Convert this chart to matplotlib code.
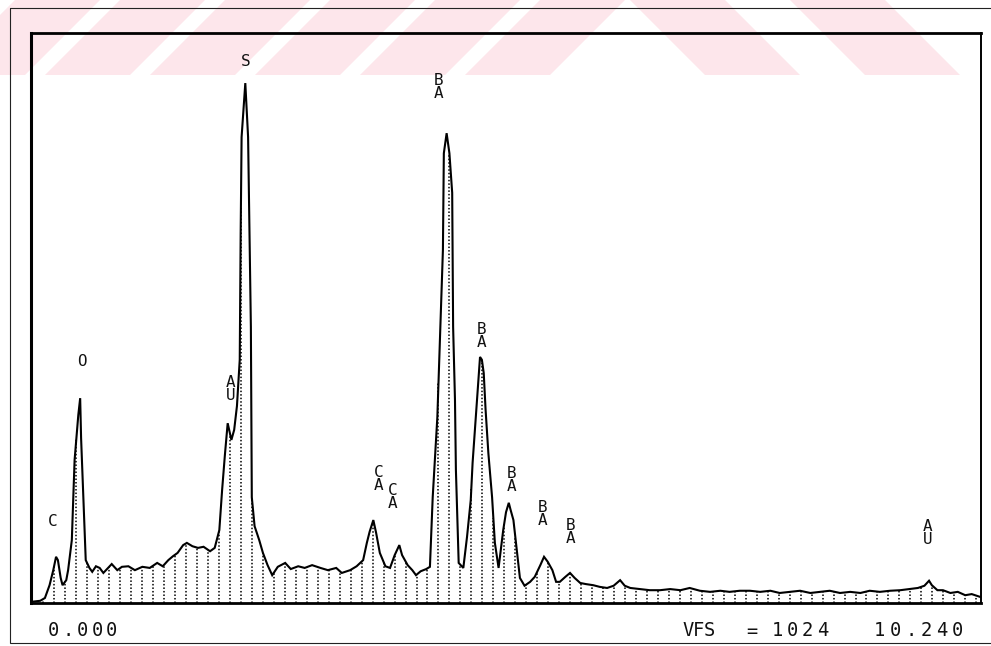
import numpy as np
import matplotlib
matplotlib.use("Agg")
import matplotlib.pyplot as plt
from matplotlib.patches import Polygon, Rectangle

# spectrum trace: energy (keV) and counts (full scale 1024)
energy = [0.00, 0.10, 0.15, 0.20, 0.24, 0.27, 0.29, 0.32, 0.34, 0.38, 0.40, 0.44, 0.47, 0.51, 0.53,
          0.54, 0.57, 0.59, 0.63, 0.66, 0.70, 0.74, 0.78, 0.83, 0.87, 0.93, 0.98, 1.05, 1.12, 1.20,
          1.28, 1.36, 1.42, 1.48, 1.53, 1.58, 1.64, 1.68, 1.74, 1.80, 1.86, 1.93, 1.98, 2.03, 2.06,
          2.09, 2.12, 2.16, 2.19, 2.22, 2.25, 2.26, 2.27, 2.31, 2.34, 2.35, 2.37, 2.38, 2.41, 2.46,
          2.50, 2.55, 2.60, 2.66, 2.74, 2.80, 2.88, 2.95, 3.03, 3.12, 3.20, 3.29, 3.35, 3.44, 3.51,
          3.58, 3.62, 3.65, 3.69, 3.72, 3.76, 3.82, 3.87, 3.92, 3.97, 4.00, 4.06, 4.11, 4.15, 4.20,
          4.26, 4.30, 4.33, 4.38, 4.41, 4.44, 4.45, 4.48, 4.51, 4.54, 4.55, 4.57, 4.58, 4.60, 4.61,
          4.66, 4.70, 4.74, 4.76, 4.81, 4.84, 4.86, 4.88, 4.90, 4.93, 4.97, 5.00, 5.04, 5.09, 5.12,
          5.15, 5.17, 5.20, 5.24, 5.27, 5.32, 5.38, 5.43, 5.49, 5.53, 5.57, 5.62, 5.66, 5.70, 5.76,
          5.81, 5.86, 5.92, 5.98, 6.06, 6.13, 6.21, 6.28, 6.35, 6.40, 6.46, 6.56, 6.67, 6.78, 6.89,
          7.00, 7.10, 7.21, 7.32, 7.43, 7.53, 7.64, 7.75, 7.86, 7.97, 8.07, 8.18, 8.29, 8.40, 8.50,
          8.61, 8.72, 8.83, 8.94, 9.04, 9.15, 9.26, 9.37, 9.47, 9.56, 9.63, 9.68, 9.71, 9.77, 9.83,
          9.91, 9.99, 10.07, 10.14, 10.23]
counts = [2, 4, 9, 32, 59, 83, 77, 45, 32, 41, 59, 113, 257, 338, 368,
          296, 167, 77, 63, 56, 66, 63, 54, 63, 70, 59, 65, 66, 59, 65,
          63, 72, 66, 77, 84, 90, 104, 108, 102, 99, 101, 93, 99, 131, 203,
          266, 323, 293, 311, 354, 437, 665, 837, 934, 837, 724, 496, 190, 138, 113,
          90, 68, 50, 65, 72, 61, 66, 63, 68, 63, 59, 63, 54, 59, 66,
          77, 108, 128, 149, 126, 90, 66, 63, 86, 104, 86, 68, 59, 50, 57,
          61, 65, 190, 334, 485, 634, 808, 844, 808, 737, 496, 365, 239, 126, 72,
          63, 119, 185, 252, 370, 442, 437, 413, 347, 269, 190, 108, 63, 131, 163,
          180, 167, 149, 90, 45, 31, 38, 47, 68, 83, 74, 59, 38, 38, 47,
          54, 45, 36, 34, 32, 29, 27, 31, 41, 31, 27, 25, 23, 23, 25,
          23, 27, 22, 20, 22, 20, 22, 22, 20, 22, 18, 20, 22, 18, 20,
          22, 18, 20, 18, 22, 20, 22, 23, 25, 27, 31, 40, 32, 23, 23,
          18, 20, 14, 16, 11]

# peak labels (stacked letters like the analyser printout)
peak_labels = ["C", "O", "A\nU", "S", "C\nA", "C\nA", "B\nA", "B\nA", "B\nA", "B\nA", "B\nA", "A\nU"]
label_energy = [0.23, 0.55, 2.15, 2.31, 3.75, 3.90, 4.39, 4.86, 5.18, 5.51, 5.82, 9.66]
label_counts = [147, 433, 384, 972, 223, 190, 927, 480, 221, 160, 128, 126]

e_min, e_max = 0.0, 10.24
vfs = 1024

W, H = 991, 646
fig = plt.figure(figsize=(W / 100, H / 100), dpi=100)
fig.patch.set_facecolor("white")

# faint pink watermark stripes along the top of the scan
pink = "#fde6eb"
bg = fig.add_axes([0, 0, 1, 1], zorder=-5)
bg.set_xlim(0, W)
bg.set_ylim(H, 0)
bg.axis("off")
for x0 in range(-60, 560, 105):
    bg.add_patch(Polygon([(x0, 75), (x0 + 75, 0), (x0 + 160, 0), (x0 + 85, 75)],
                         closed=True, color=pink, lw=0))
for x0 in [630, 790]:
    bg.add_patch(Polygon([(x0, 0), (x0 + 95, 0), (x0 + 170, 75), (x0 + 75, 75)],
                         closed=True, color=pink, lw=0))
# outer border of the printout
bg.add_patch(Rectangle((10, 8), 990, 635, fill=False, lw=0.8, ec="#222222"))

ax = fig.add_axes([31 / W, (H - 603) / H, 950 / W, 570 / H])
ax.set_xlim(e_min, e_max)
ax.set_ylim(0, vfs)
ax.set_xticks([])
ax.set_yticks([])
ax.patch.set_alpha(0)
for side, lw in [("left", 2.2), ("top", 2.0), ("right", 1.4), ("bottom", 2.0)]:
    ax.spines[side].set_linewidth(lw)
    ax.spines[side].set_color("black")

# dotted channel markers under the trace
marks = np.arange(0.015, e_max, 0.1183)
heights = np.interp(marks, energy, counts)
ax.vlines(marks, 0, heights, colors="black", linestyles=(0, (1, 1.3)), lw=1.1)

ax.plot(energy, counts, color="black", lw=1.5, solid_joinstyle="miter")

for lab, e, c in zip(peak_labels, label_energy, label_counts):
    ax.text(e, c, lab, ha="center", va="center", family="DejaVu Sans Mono",
            fontsize=11.5, linespacing=0.85, color="#111111")


def spaced(x, y, s, pitch):
    # printer-style text: one glyph per fixed cell
    for i, ch in enumerate(s):
        bg.text(x + i * pitch, y, ch, ha="left", va="center", family="DejaVu Sans Mono",
                fontsize=13.5, color="#111111")


spaced(48, 631, "0.000", 14.5)
spaced(682, 631, "VFS", 11)
spaced(746, 631, "=", 11)
spaced(772, 631, "1024", 15)
spaced(874, 631, "10.240", 15.5)

fig.savefig("out.png", dpi=100, facecolor="white")
